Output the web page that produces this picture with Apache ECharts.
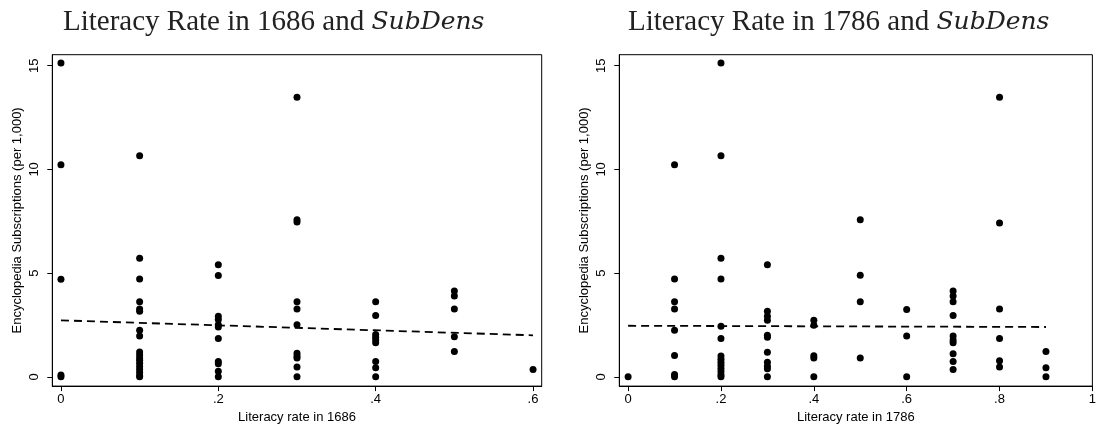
<!DOCTYPE html>
<html><head><meta charset="utf-8">
<script src="https://cdn.jsdelivr.net/npm/echarts@6/dist/echarts.min.js"></script>
<style>html,body{margin:0;padding:0;background:#fff}#c{width:1099px;height:429px}</style>
</head><body><div id="c"></div>
<script>
// Left panel: literacy 1686
const leftLevels = [0, 0.1, 0.2, 0.3, 0.4, 0.5, 0.6];
const leftValues = [
  [15.13, 10.22, 4.70, 0.08, 0],
  [10.66, 5.72, 4.72, 3.62, 3.27, 3.16, 2.24, 1.96, 1.2, 1.05, 0.9, 0.8, 0.65, 0.5, 0.35, 0.2, 0.05, 0],
  [5.40, 4.88, 2.92, 2.76, 2.51, 2.40, 1.85, 0.74, 0.63, 0.27, 0],
  [13.48, 7.57, 7.46, 3.62, 3.27, 2.51, 1.14, 1.0, 0.9, 0.47, 0],
  [3.62, 2.95, 2.04, 1.9, 1.77, 1.64, 0.74, 0.43, 0],
  [4.14, 3.90, 3.27, 1.93, 1.22],
  [0.35]
];
const leftFit = [[0, 2.72], [0.6, 2.0]];
const leftTicks = [0, 0.2, 0.4, 0.6];

// Right panel: literacy 1786
const rightLevels = [0, 0.1, 0.2, 0.3, 0.4, 0.5, 0.6, 0.7, 0.8, 0.9];
const rightValues = [
  [0],
  [10.22, 4.72, 3.62, 3.27, 2.24, 1.03, 0.11, 0],
  [15.13, 10.66, 5.72, 4.72, 2.43, 1.85, 1.0, 0.85, 0.7, 0.55, 0.4, 0.25, 0.1, 0],
  [5.40, 3.16, 2.92, 2.72, 2.0, 1.9, 1.18, 0.7, 0.51, 0.39, 0],
  [2.72, 2.48, 1.01, 0.9, 0],
  [7.57, 4.90, 3.62, 0.90],
  [3.24, 1.97, 0],
  [4.14, 3.90, 3.62, 2.95, 1.97, 1.77, 1.64, 1.11, 0.74, 0.35],
  [13.48, 7.41, 3.27, 1.85, 0.77, 0.47],
  [1.22, 0.43, 0]
];
const rightFit = [[0, 2.46], [0.9, 2.40]];
const rightTicks = [0, 0.2, 0.4, 0.6, 0.8, 1];

const yTicks = [0, 5, 10, 15];
const yName = 'Encyclopedia Subscriptions (per 1,000)';

function pairs(levels, values) {
  const out = [];
  levels.forEach((x, i) => values[i].forEach(y => out.push([x, y])));
  return out;
}
const fmtX = v => { const r = Math.round(v * 10) / 10; return r === 0 ? '0' : String(r).replace(/^0/, ''); };
const sans = 'Liberation Sans, Arial, sans-serif';

function xAxis(idx, min, max, ticks, name) {
  return {
    gridIndex: idx, type: 'value', min: min, max: max,
    name: name, nameLocation: 'middle', nameGap: 22,
    nameTextStyle: { fontFamily: sans, fontSize: 13, color: '#000' },
    axisLine: { show: true, onZero: false, lineStyle: { color: '#000', width: 1 } },
    axisTick: { show: true, length: 5, customValues: ticks, lineStyle: { color: '#000' } },
    axisLabel: { customValues: ticks, formatter: fmtX, margin: 7, fontFamily: sans, fontSize: 13, color: '#000' },
    splitLine: { show: false }
  };
}
function yAxis(idx) {
  return {
    gridIndex: idx, type: 'value', min: -0.45, max: 15.53,
    name: yName, nameLocation: 'middle', nameGap: 28,
    nameTextStyle: { fontFamily: sans, fontSize: 13, color: '#000' },
    axisLine: { show: true, onZero: false, lineStyle: { color: '#000', width: 1 } },
    axisTick: { show: true, length: 5, customValues: yTicks, lineStyle: { color: '#000' } },
    axisLabel: { customValues: yTicks, rotate: 90, margin: 11, fontFamily: sans, fontSize: 13, color: '#000' },
    splitLine: { show: false }
  };
}
function title(left, year) {
  return {
    left: left, top: 8, padding: 0,
    text: '{n|Literacy Rate in ' + year + ' and }{i|SubDens}',
    textStyle: {
      fontWeight: 'normal',
      rich: {
        n: { fontFamily: 'Liberation Serif, Times New Roman, serif', fontWeight: 'normal', fontSize: 29, color: '#222' },
        i: { fontFamily: 'DejaVu Serif, serif', fontStyle: 'italic', fontWeight: 'normal', fontSize: 25, color: '#222' }
      }
    }
  };
}
const pt = { color: '#000', opacity: 1 };
const dash = { color: '#000', width: 1.8, type: [8, 5] };
const chart = echarts.init(document.getElementById('c'), null, { renderer: 'canvas' });
chart.setOption({
  backgroundColor: '#fff',
  animation: false,
  title: [title(63, '1686'), title(628, '1786')],
  grid: [
    { left: 52.3, width: 489.4, top: 54.7, height: 337, show: true, borderColor: '#000', borderWidth: 1, backgroundColor: 'transparent' },
    { left: 619.3, width: 480.7, top: 54.7, height: 337, show: true, borderColor: '#000', borderWidth: 1, backgroundColor: 'transparent' }
  ],
  xAxis: [xAxis(0, -0.011, 0.611, leftTicks, 'Literacy rate in 1686'), xAxis(1, -0.019, 1.0, rightTicks, 'Literacy rate in 1786')],
  yAxis: [yAxis(0), yAxis(1)],
  series: [
    { type: 'scatter', xAxisIndex: 0, yAxisIndex: 0, symbolSize: 7, itemStyle: pt, data: pairs(leftLevels, leftValues) },
    { type: 'line', xAxisIndex: 0, yAxisIndex: 0, symbol: 'none', lineStyle: dash, data: leftFit },
    { type: 'scatter', xAxisIndex: 1, yAxisIndex: 1, symbolSize: 7, itemStyle: pt, data: pairs(rightLevels, rightValues) },
    { type: 'line', xAxisIndex: 1, yAxisIndex: 1, symbol: 'none', lineStyle: dash, data: rightFit }
  ]
});
</script></body></html>
